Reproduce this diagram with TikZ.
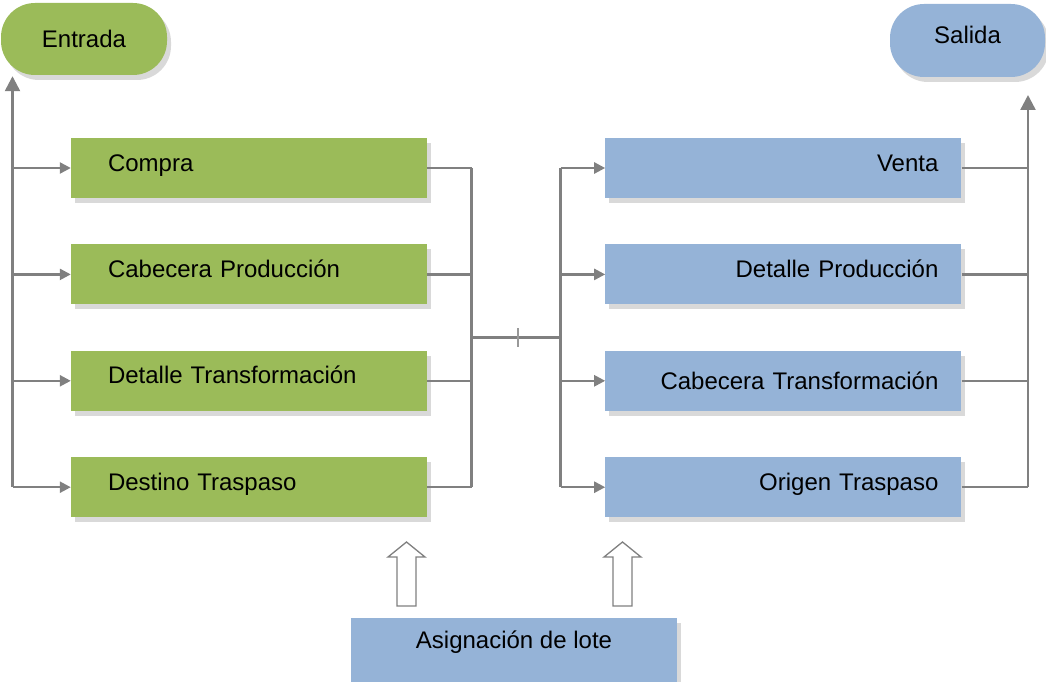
\documentclass[tikz,border=0pt]{standalone}
\usepackage{fontspec}
\setmainfont{Liberation Sans}
\usepackage{tikz}
\usetikzlibrary{arrows.meta, positioning, shadows}
\usepackage{xcolor}

\definecolor{verde}{HTML}{9BBB59}
\definecolor{azul}{HTML}{95B3D7}
\definecolor{gris}{HTML}{808080}
\definecolor{sombra}{HTML}{D9D9D9}

\tikzset{
	sombreada/.style={drop shadow={fill=sombra, opacity=1, shadow xshift=4pt, shadow yshift=-5pt}},
	caja/.style={sombreada, minimum width=356pt, minimum height=60pt, inner sep=0pt, text height=18pt, text depth=12pt},
	cajaIzq/.style={caja, fill=verde, text width=282pt, align=left},
	cajaDer/.style={caja, fill=azul, text width=310pt, align=right},
	terminal/.style={sombreada, rounded corners=34pt, inner sep=0pt, text height=18pt, text depth=12pt},
	linea/.style={draw=gris, line width=2.4pt},
	flecha/.style={linea, -{Triangle[length=11pt, width=11pt]}},
	flechaGrande/.style={linea, -{Triangle[length=15pt, width=15pt]}},
	bloque/.style={draw=gris, line width=1.3pt, fill=white}
}

\begin{document}
\begin{tikzpicture}[x=1pt, y=-1pt, font=\fontsize{24}{28}\selectfont]
	\useasboundingbox (0,0) rectangle (1046,682);
	
	% inicio y fin
	\node[terminal, fill=verde, minimum width=166pt, minimum height=72pt, text depth=0pt] (entrada) at (84,39) {Entrada};
	\node[terminal, fill=azul, minimum width=155pt, minimum height=73pt] (salida) at (967.5,40.5) {Salida};
	
	% documentos de entrada
	\node[cajaIzq] (compra) at (249,168) {Compra};
	\node[cajaIzq, below=46pt of compra] (cabProd) {Cabecera Producción};
	\node[cajaIzq, below=46pt of cabProd] (detTrans) {Detalle Transformación};
	\node[cajaIzq, below=46pt of detTrans] (destTras) {Destino Traspaso};
	
	% documentos de salida
	\node[cajaDer, right=178pt of compra] (venta) {Venta};
	\node[cajaDer, right=178pt of cabProd] (detProd) {Detalle Producción};
	\node[cajaDer, right=178pt of detTrans, text depth=0pt] (cabTrans) {Cabecera Transformación};
	\node[cajaDer, right=178pt of destTras] (origTras) {Origen Traspaso};
	
	% asignacion
	\node[caja, fill=azul, minimum width=326pt, minimum height=64pt, text height=13pt, text depth=16pt] (asignacion) at (514,649.7) {Asignación de lote};
	
	% bus izquierdo hacia Entrada
	\coordinate (busIzq) at (12.5,0);
	\draw[flechaGrande, shorten >=1pt] (busIzq |- destTras) -- (busIzq |- entrada.south);
	\foreach \n in {compra, cabProd, detTrans, destTras}
		\draw[flecha] (busIzq |- \n) -- (\n.west);
	
	% union central
	\coordinate (colIzq) at (471.5,0);
	\coordinate (colDer) at (560.5,0);
	\coordinate (medioIzq) at (471.5,337.5);
	\coordinate (medioDer) at (560.5,337.5);
	\coordinate (marca) at (517.5,337.5);
	\foreach \n in {compra, cabProd, detTrans, destTras}
		\draw[linea] (\n.east) -- (colIzq |- \n);
	\draw[linea] (colIzq |- compra) -- (colIzq |- destTras);
	\draw[linea] (medioIzq) -- (medioDer);
	\draw[draw=gris!80, line width=2pt] ([yshift=9.5pt]marca) -- ([yshift=-9.5pt]marca);
	\draw[linea] (colDer |- venta) -- (colDer |- origTras);
	\foreach \n in {venta, detProd, cabTrans, origTras}
		\draw[flecha] (colDer |- \n) -- (\n.west);
	
	% bus derecho hacia Salida
	\coordinate (busDer) at (1028,0);
	\coordinate (puntaSalida) at (1028,95);
	\foreach \n in {venta, detProd, cabTrans, origTras}
		\draw[linea] (\n.east) -- (busDer |- \n);
	\draw[flechaGrande] (busDer |- origTras) -- (puntaSalida);
	
	% flechas huecas
	\foreach \x in {406.5, 622.5}
		\draw[bloque] (\x-9.5,606) -- (\x-9.5,557) -- (\x-18.5,557) -- (\x,542) -- (\x+18.5,557) -- (\x+9.5,557) -- (\x+9.5,606) -- cycle;
	
\end{tikzpicture}
\end{document}
